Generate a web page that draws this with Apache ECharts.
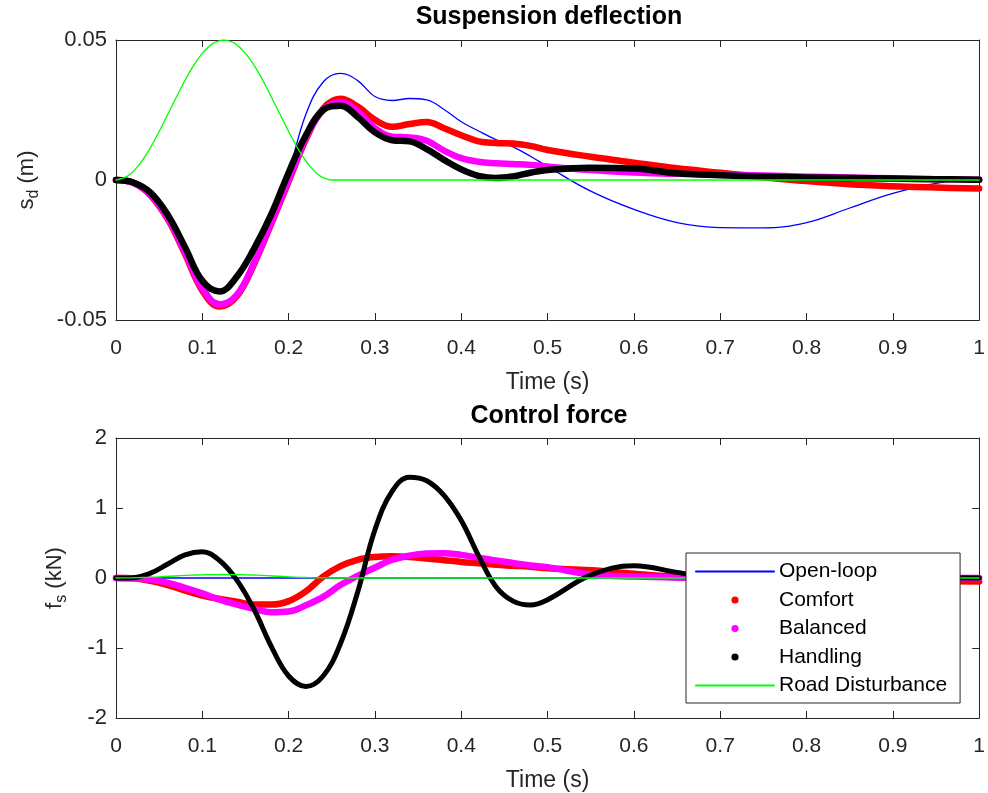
<!DOCTYPE html>
<html>
<head>
<meta charset="utf-8">
<script src="https://cdn.jsdelivr.net/npm/echarts@6/dist/echarts.min.js"></script>
<style>
  html, body { margin: 0; padding: 0; background: #fff; }
  #main { width: 988px; height: 793px; }
</style>
</head>
<body>
<div id="main"></div>
<script>
const chart = echarts.init(document.getElementById('main'))

// time samples (s)
const tGrid = [0, 0.02, 0.04, 0.06, 0.08, 0.10, 0.12, 0.14, 0.16, 0.18, 0.20, 0.22, 0.24, 0.26, 0.28, 0.30,
  0.32, 0.34, 0.36, 0.38, 0.40, 0.42, 0.44, 0.46, 0.48, 0.50, 0.55, 0.60, 0.65, 0.70, 0.75, 0.80, 0.85, 0.90, 0.95, 1.00]
const tRoad = [0, 0.0125, 0.025, 0.0375, 0.05, 0.0625, 0.075, 0.0875, 0.1, 0.1125, 0.125, 0.1375, 0.15,
  0.1625, 0.175, 0.1875, 0.2, 0.2125, 0.225, 0.2375, 0.25, 1.0]
const roadDist = [0, 0.0012, 0.0048, 0.0103, 0.0173, 0.025, 0.0327, 0.0397, 0.0452, 0.0488, 0.05, 0.0488,
  0.0452, 0.0397, 0.0327, 0.025, 0.0173, 0.0103, 0.0048, 0.0012, 0, 0]

// suspension deflection (m)
const sdOpen = [0, -0.0008, -0.0045, -0.0125, -0.0245, -0.0365, -0.0435, -0.0405, -0.0275, -0.0120, 0.0030, 0.0235,
  0.0350, 0.0381, 0.0355, 0.0298, 0.0284, 0.0291, 0.0286, 0.0252, 0.0208, 0.0175, 0.0144, 0.0118, 0.0085, 0.0048,
  -0.0040, -0.0105, -0.0152, -0.0170, -0.0171, -0.0152, -0.0100, -0.0048, -0.0012, 0.0003]
const sdComfort = [0, -0.0010, -0.0055, -0.0140, -0.0265, -0.0395, -0.0452, -0.0415, -0.0300, -0.0155, -0.0005, 0.0145,
  0.0255, 0.0290, 0.0262, 0.0215, 0.0190, 0.0200, 0.0207, 0.0185, 0.0160, 0.0138, 0.0132, 0.0130, 0.0122, 0.0107,
  0.0083, 0.0062, 0.0042, 0.0026, 0.0010, -0.0004, -0.0015, -0.0022, -0.0027, -0.0030]
const sdBalanced = [0, -0.0010, -0.0053, -0.0137, -0.0260, -0.0388, -0.0445, -0.0410, -0.0295, -0.0150, 0.0000, 0.0150,
  0.0250, 0.0278, 0.0245, 0.0185, 0.0155, 0.0152, 0.0140, 0.0105, 0.0078, 0.0065, 0.0060, 0.0057, 0.0054, 0.0048,
  0.0036, 0.0027, 0.0022, 0.0019, 0.0016, 0.0012, 0.0009, 0.0006, 0.0003, 0.0001]
const sdHandling = [0, -0.0009, -0.0045, -0.0125, -0.0240, -0.0360, -0.0398, -0.0345, -0.0245, -0.0122, 0.0026, 0.0160,
  0.0250, 0.0265, 0.0225, 0.0170, 0.0142, 0.0138, 0.0110, 0.0072, 0.0038, 0.0015, 0.0007, 0.0013, 0.0026, 0.0036,
  0.0044, 0.0041, 0.0024, 0.0017, 0.0012, 0.0009, 0.0007, 0.0005, 0.0003, 0.0001]

// control force (kN)
const fsOpen = [0, 0, 0, 0, 0, 0, 0, 0, 0, 0, 0, 0, 0, 0, 0, 0, 0, 0, 0, 0, 0, 0, 0, 0, 0, 0, 0, 0, 0, 0, 0, 0, 0, 0, 0, 0]
const fsComfort = [0, -0.005, -0.04, -0.10, -0.18, -0.25, -0.30, -0.34, -0.38, -0.38, -0.33, -0.19, 0.02, 0.17, 0.26, 0.30,
  0.31, 0.30, 0.28, 0.255, 0.23, 0.21, 0.19, 0.175, 0.16, 0.14, 0.11, 0.06, 0.015, -0.01, -0.02, -0.03, -0.035, -0.04, -0.045, -0.05]
const fsBalanced = [0, -0.003, -0.025, -0.07, -0.14, -0.22, -0.31, -0.38, -0.44, -0.49, -0.48, -0.39, -0.27, -0.10, 0.03, 0.15,
  0.26, 0.32, 0.35, 0.355, 0.33, 0.29, 0.25, 0.215, 0.18, 0.155, 0.05, 0.02, 0.005, 0, 0, 0, 0, 0, 0, 0]
const fsHandling = [0, 0.005, 0.07, 0.20, 0.33, 0.375, 0.25, -0.03, -0.45, -0.98, -1.40, -1.55, -1.40, -0.94, -0.20, 0.69,
  1.24, 1.44, 1.39, 1.18, 0.82, 0.32, -0.12, -0.33, -0.385, -0.31, 0.04, 0.175, 0.08, -0.02, -0.05, -0.03, 0, 0.01, 0.005, 0]

const names = ['Open-loop', 'Comfort', 'Balanced', 'Handling', 'Road Disturbance']
const colors = ['#0000ff', '#ff0000', '#ff00ff', '#000000', '#00ff00']

const FONT = 'Liberation Sans, Arial, Helvetica, sans-serif'
const INK = '#262626'

const pts = (ts, ys) => ts.map((t, i) => [t, ys[i]])

function xAx(grid, top) {
  return {
    type: 'value', gridIndex: grid, position: top ? 'top' : 'bottom',
    min: 0, max: 1, interval: 0.1,
    name: top ? '' : 'Time (s)', nameLocation: 'middle', nameGap: 51,
    nameTextStyle: { color: INK, fontSize: 23, fontFamily: FONT },
    axisLine: { show: true, onZero: false, lineStyle: { color: INK, width: 1 } },
    axisTick: { show: true, inside: true, length: 7, lineStyle: { color: INK } },
    axisLabel: { show: !top, color: INK, fontSize: 21, fontFamily: FONT, margin: 18 },
    splitLine: { show: false }
  }
}

function yAx(grid, right, min, max, step, name, gap) {
  return {
    type: 'value', gridIndex: grid, position: right ? 'right' : 'left',
    min: min, max: max, interval: step,
    name: right ? '' : name, nameLocation: 'middle', nameGap: gap, nameRotate: 90,
    nameTextStyle: {
      color: INK, fontFamily: FONT,
      rich: {
        m: { fontSize: 22, lineHeight: 30, color: INK, fontFamily: FONT },
        s: { fontSize: 16, lineHeight: 18, verticalAlign: 'bottom', color: INK, fontFamily: FONT }
      }
    },
    axisLine: { show: true, onZero: false, lineStyle: { color: INK, width: 1 } },
    axisTick: { show: true, inside: true, length: 7, lineStyle: { color: INK } },
    axisLabel: { show: !right, color: INK, fontSize: 22, fontFamily: FONT, margin: 9 },
    splitLine: { show: false }
  }
}

function line(i, data, xi, yi) {
  const dots = i >= 1 && i <= 3
  return {
    name: names[i],
    type: 'line',
    xAxisIndex: xi, yAxisIndex: yi,
    data: data,
    smooth: 0.4,
    symbol: dots ? 'circle' : 'none',
    showSymbol: false,
    color: colors[i],
    lineStyle: { color: colors[i], width: dots ? (i === 3 && xi === 2 ? 5 : 6.5) : 1.3, cap: 'round', join: 'round' },
    animation: false,
    silent: true
  }
}

const series = []
const topSets = [sdOpen, sdComfort, sdBalanced, sdHandling]
const botSets = [fsOpen, fsComfort, fsBalanced, fsHandling]
topSets.forEach((ys, i) => series.push(line(i, pts(tGrid, ys), 0, 0)))
series.push(line(4, pts(tRoad, roadDist), 0, 0))
botSets.forEach((ys, i) => series.push(line(i, pts(tGrid, ys), 2, 2)))
series.push(line(4, pts(tRoad, roadDist), 2, 2))
series.forEach((s) => { if (s.name === 'Road Disturbance') s.smooth = 0.2 })

const option = {
  backgroundColor: '#fff',
  animation: false,
  title: [
    { text: 'Suspension deflection', left: 549, top: 5, textAlign: 'center', padding: 0,
      textStyle: { color: '#000', fontSize: 25, fontWeight: 'bold', fontFamily: FONT } },
    { text: 'Control force', left: 549, top: 404, textAlign: 'center', padding: 0,
      textStyle: { color: '#000', fontSize: 25, fontWeight: 'bold', fontFamily: FONT } }
  ],
  grid: [
    { left: 116, top: 40, width: 867, height: 280 },
    { left: 116, top: 438, width: 867, height: 280 }
  ],
  xAxis: [xAx(0, false), xAx(0, true), xAx(1, false), xAx(1, true)],
  yAxis: [
    yAx(0, false, -0.05, 0.05, 0.05, '{m|s}{s|d}{m| (m)}', 74),
    yAx(0, true, -0.05, 0.05, 0.05, '', 0),
    yAx(1, false, -2, 2, 1, '{m|f}{s|s}{m| (kN)}', 46),
    yAx(1, true, -2, 2, 1, '', 0)
  ],
  legend: {
    orient: 'vertical',
    left: 686, top: 553,
    padding: [8, 13, 7, 9],
    backgroundColor: '#fff',
    borderColor: INK, borderWidth: 1, borderRadius: 0,
    itemWidth: 78, itemHeight: 9, itemGap: 7.5,
    selectedMode: false,
    textStyle: { color: '#000', fontSize: 21, fontFamily: FONT },
    data: [
      { name: 'Open-loop', itemStyle: { opacity: 0 } },
      { name: 'Comfort', lineStyle: { opacity: 0 } },
      { name: 'Balanced', lineStyle: { opacity: 0 } },
      { name: 'Handling', lineStyle: { opacity: 0 } },
      { name: 'Road Disturbance', itemStyle: { opacity: 0 } }
    ]
  },
  series: series
}
chart.setOption(option)
</script>
</body>
</html>
